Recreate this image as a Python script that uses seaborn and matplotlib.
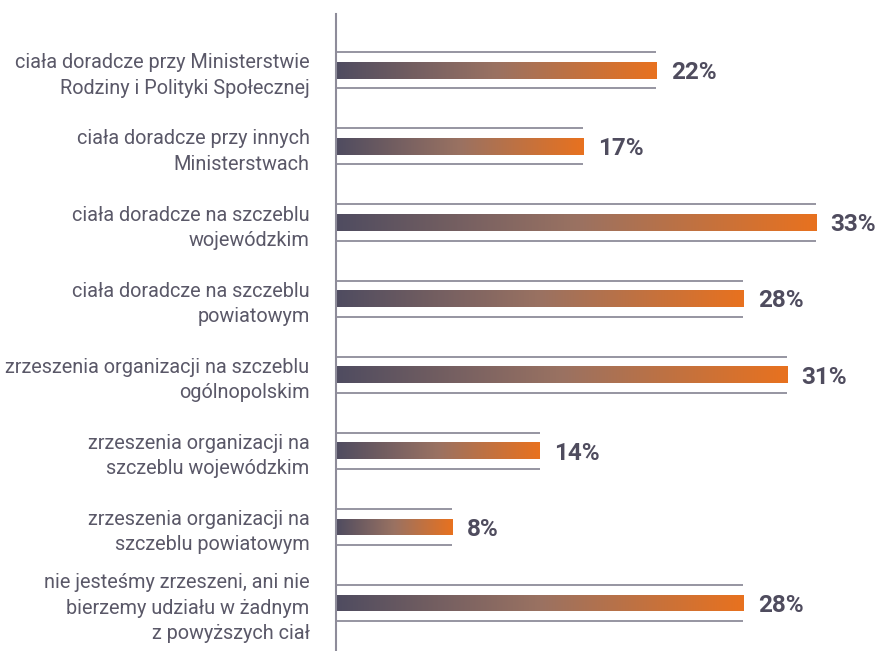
import numpy as np
import pandas as pd
import matplotlib
matplotlib.use("Agg")
import matplotlib.pyplot as plt
from matplotlib.colors import LinearSegmentedColormap
import seaborn as sns

categories = [
    "ciała doradcze przy Ministerstwie\nRodziny i Polityki Społecznej",
    "ciała doradcze przy innych\nMinisterstwach",
    "ciała doradcze na szczeblu\nwojewódzkim",
    "ciała doradcze na szczeblu\npowiatowym",
    "zrzeszenia organizacji na szczeblu\nogólnopolskim",
    "zrzeszenia organizacji na\nszczeblu wojewódzkim",
    "zrzeszenia organizacji na\nszczeblu powiatowym",
    "nie jesteśmy zrzeszeni, ani nie\nbierzemy udziału w żadnym\nz powyższych ciał",
]
values = [22, 17, 33, 28, 31, 14, 8, 28]
value_labels = ["22%", "17%", "33%", "28%", "31%", "14%", "8%", "28%"]

sns.set_theme(style="white")
plt.rcParams["font.family"] = ["Roboto", "DejaVu Sans"]

df = pd.DataFrame({"kategoria": categories, "udzial": values})

W, H, DPI = 879, 651, 100
fig = plt.figure(figsize=(W / DPI, H / DPI), dpi=DPI)
ax = fig.add_axes([336 / W, 0, 1 - 336 / W, 637 / H])

bar_h = 0.22
sns.barplot(data=df, x="udzial", y="kategoria", orient="h", ax=ax,
            width=bar_h, color="#e8711f", edgecolor="none", linewidth=0)

ax.set_xlim(0, (W - 336) / 14.55)
ax.set_ylim(7.63, -0.74)

# gradient fill for each bar, clipped to the bar shape
cmap = LinearSegmentedColormap.from_list("grad", ["#4f4c60", "#9a7262", "#e8711f"])
grad = np.linspace(0, 1, 256).reshape(1, -1)
for patch in ax.patches:
    x0, y0 = patch.get_x(), patch.get_y()
    w, h = patch.get_width(), patch.get_height()
    im = ax.imshow(grad, extent=[x0, x0 + w, y0 + h, y0], aspect="auto",
                   cmap=cmap, zorder=patch.get_zorder() + 0.1, interpolation="bicubic")
    im.set_clip_path(patch)
    patch.set_facecolor("none")

# thin guide lines above and below each bar
ypos = np.arange(len(values))
ax.hlines(ypos - 0.237, 0, values, color="#8e8c9a", linewidth=1.3, zorder=3)
ax.hlines(ypos + 0.237, 0, values, color="#8e8c9a", linewidth=1.3, zorder=3)

# value labels
for y, v, lab in zip(ypos, values, value_labels):
    ax.text(v + 1.0, y + 0.03, lab, ha="left", va="center", fontsize=17.5,
            fontweight="bold", color="#4f4c5e")

ax.set_xlabel("")
ax.set_ylabel("")
ax.set_xticks([])
ax.set_yticks(ypos)
ax.set_yticklabels(categories, fontsize=14.3, color="#5a5868")
for t in ax.get_yticklabels():
    t.set_linespacing(1.42)
ax.tick_params(axis="y", length=0, pad=19)
for s in ["top", "right", "bottom"]:
    ax.spines[s].set_visible(False)
ax.spines["left"].set_color("#8e8c9a")
ax.spines["left"].set_linewidth(1.5)

fig.savefig("out.png", dpi=DPI)
